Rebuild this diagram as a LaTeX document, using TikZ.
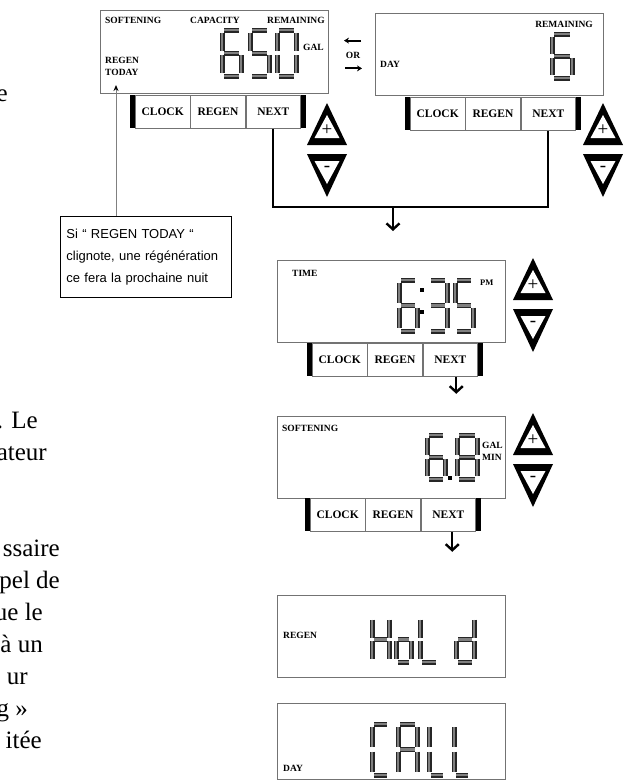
\documentclass[tikz,border=0pt]{standalone}
\usepackage{fontspec}
\setmainfont{Liberation Serif}
\newfontfamily\notefont{Liberation Sans}
\usetikzlibrary{arrows.meta, positioning}

\newcommand\lcdlbl{\fontsize{9.5}{10}\selectfont\bfseries}
\newcommand\btnfont{\fontsize{11.5}{12}\selectfont\bfseries}

\tikzset{
  panel/.style={draw=black!55, line width=1pt, minimum width=228pt, minimum height=83pt, anchor=north west, inner sep=0pt},
  lbl/.style={font=\lcdlbl, inner sep=0pt, anchor=west},
  btn/.style={draw=black!55, line width=0.8pt, minimum width=54.5pt, minimum height=33pt, inner sep=0pt, font=\btnfont},
  seg/.style={draw=black!50, line width=2.2pt, preaction={draw=black!85, line width=5pt}},
  flow/.style={line width=2.2pt},
  flowarrow/.style={line width=2.4pt, -{Straight Barb[length=6pt, width=13pt]}},
  sidearrow/.style={line width=1.8pt, -{Stealth[length=5pt, width=6pt]}},
  side/.style={font=\fontsize{25}{28}\selectfont, inner sep=0pt, anchor=base east},
  pm/.style={font=\fontsize{19}{19}\selectfont, inner sep=0pt},
  note/.style={draw, line width=0.8pt, anchor=north west, align=left, text width=159pt, minimum height=81pt, inner xsep=6pt, font=\notefont\fontsize{13}{22}\selectfont},
}

% one segment of a seven-segment digit, unit box
\newcommand\drawseg[1]{%
  \if#1a\draw[seg] (0.12,0) -- (0.88,0);\fi
  \if#1b\draw[seg] (1,0.06) -- (1,0.46);\fi
  \if#1c\draw[seg] (1,0.54) -- (1,0.94);\fi
  \if#1d\draw[seg] (0.12,1) -- (0.88,1);\fi
  \if#1e\draw[seg] (0,0.54) -- (0,0.94);\fi
  \if#1f\draw[seg] (0,0.06) -- (0,0.46);\fi
  \if#1g\draw[seg] (0.12,0.5) -- (0.88,0.5);\fi}
% x, y top, width, height, segments
\newcommand\segdigit[5]{%
  \begin{scope}[shift={(#1,#2)}, x=#3pt, y=-#4pt]
    \foreach \s in {#5}{\drawseg{\s}}
  \end{scope}}
% prefix, centre x, top y
\newcommand\plusminus[3]{%
  \fill (#2,#3) -- (#2+20,#3+42) -- (#2-20,#3+42) -- cycle;
  \fill[white] (#2,#3+12) -- (#2+12.5,#3+35) -- (#2-12.5,#3+35) -- cycle;
  \node[pm] (#1plus) at (#2,#3+27) {+};
  \fill (#2-20,#3+51) -- (#2+20,#3+51) -- (#2,#3+94) -- cycle;
  \fill[white] (#2-12.5,#3+58) -- (#2+12.5,#3+58) -- (#2,#3+81) -- cycle;
  \node[pm] (#1minus) at (#2,#3+66) {-};}
% prefix, left x, top y
\newcommand\btnbar[3]{%
  \fill (#2,#3) rectangle ++(5,33);
  \node[btn, anchor=north west] (#1clock) at (#2+5,#3) {CLOCK};
  \node[btn, right=0pt of #1clock] (#1regen) {REGEN};
  \node[btn, right=0pt of #1regen] (#1next) {NEXT};
  \fill (#1next.north east) rectangle ++(5,33);}

\begin{document}
\begin{tikzpicture}[x=1pt, y=-1pt]
  \useasboundingbox (0,0) rectangle (627,780);

  % text cut off at the left
  \node[side] (fragA) at (8,101) {e};
  \node[side] (fragB) at (38,428) {. Le};
  \node[side] (fragC) at (47,460) {ateur};
  \node[side] (fragD) at (60,556) {ssaire};
  \node[side] (fragE) at (60,588) {pel de};
  \node[side] (fragF) at (43,620) {ue le};
  \node[side] (fragG) at (43,652) {à un};
  \node[side] (fragH) at (28,684) {ur};
  \node[side] (fragI) at (28,716) {g »};
  \node[side] (fragJ) at (42,748) {itée};

  % capacity display
  \node[panel] (lcdA) at (100,10) {};
  \node[lbl] (softA) at (105,20) {SOFTENING};
  \node[lbl] (capA) at (190,20) {CAPACITY};
  \node[lbl] (remA) at (267,20) {REMAINING};
  \node[lbl] (regenA) at (105,60) {REGEN};
  \node[lbl] (today) at (105,72) {TODAY};
  \node[lbl] (galA) at (303,47) {GAL};
  \segdigit{222}{30}{19}{46}{a,c,d,e,f,g}
  \segdigit{250}{30}{19}{46}{a,c,d,f,g}
  \segdigit{277}{30}{19}{46}{a,b,c,d,e,f}
  \btnbar{A}{130}{95}
  \plusminus{A}{327}{103}

  % or
  \node[lbl, anchor=center] (orlbl) at (353,55) {OR};
  \draw[sidearrow] ([xshift=8pt, yshift=11pt]orlbl.north) -- ++(-17,0);
  \draw[sidearrow] ([xshift=-8pt, yshift=-10pt]orlbl.south) -- ++(17,0);

  % days display
  \node[panel, minimum height=82pt] (lcdB) at (375,13) {};
  \node[lbl, anchor=east] (remB) at (593,24) {REMAINING};
  \node[lbl] (dayB) at (380,64) {DAY};
  \segdigit{552}{34}{20}{44}{a,c,d,e,f,g}
  \btnbar{B}{405}{97}
  \plusminus{B}{603}{103}

  \coordinate (join) at (393,207);
  \coordinate (joinend) at (393,231);
  \draw[flow] (Anext.south) |- (join) -| (Bnext.south);
  \draw[flowarrow] (join) -- (joinend);

  % note
  \node[note] (note) at (60,216) {Si “ REGEN TODAY “\\clignote, une régénération\\ce fera la prochaine nuit};
  \coordinate (tip) at (116,85);
  \draw[gray, line width=1pt, -{Stealth[length=6pt, width=5pt, black]}] (note.north -| tip) -- (tip);

  % time display
  \node[panel, minimum height=82pt] (lcdC) at (277,260) {};
  \node[lbl] (timeC) at (292,273) {TIME};
  \node[lbl, font=\fontsize{8.5}{9}\selectfont\bfseries] (pmC) at (480,283) {PM};
  \segdigit{399}{280}{18}{51}{a,c,d,e,f,g}
  \fill (420,288) rectangle ++(4,4);
  \fill (420,310) rectangle ++(4,4);
  \segdigit{429}{280}{18}{51}{a,b,c,d,g}
  \segdigit{455}{280}{18}{51}{a,c,d,f,g}
  \btnbar{C}{307}{343}
  \plusminus{C}{533}{258}
  \draw[flowarrow] ([xshift=6pt]Cnext.south) -- ++(0,17);

  % flow display
  \node[panel, minimum height=82pt] (lcdD) at (277,416) {};
  \node[lbl] (softD) at (282,428) {SOFTENING};
  \node[lbl] (galD) at (482,445) {GAL};
  \node[lbl] (minD) at (482,457) {MIN};
  \segdigit{427}{435}{18}{44}{a,c,d,e,f,g}
  \fill (448,476) rectangle ++(4,4);
  \segdigit{457}{435}{20}{44}{a,b,c,d,e,f,g}
  \btnbar{D}{305}{498}
  \plusminus{D}{533}{413}
  \draw[flowarrow] ([xshift=4pt]Dnext.south) -- ++(0,20);

  % hold display
  \node[panel, minimum height=82pt] (lcdE) at (277,595) {};
  \node[lbl] (regenE) at (283,635) {REGEN};
  \segdigit{372}{617}{17}{45}{b,c,e,f,g}
  \segdigit{396}{617}{15}{45}{c,d,e,g}
  \segdigit{420}{617}{18}{45}{d,e,f}
  \segdigit{456}{617}{18}{45}{b,c,d,e,g}

  % call display
  \node[panel, minimum height=76pt] (lcdF) at (277,703) {};
  \node[lbl] (dayF) at (283,768) {DAY};
  \segdigit{372}{724}{17}{51}{a,d,e,f}
  \segdigit{398}{724}{19}{51}{a,b,c,e,f,g}
  \segdigit{429}{724}{16}{51}{d,e,f}
  \segdigit{454}{724}{16}{51}{d,e,f}
\end{tikzpicture}
\end{document}
